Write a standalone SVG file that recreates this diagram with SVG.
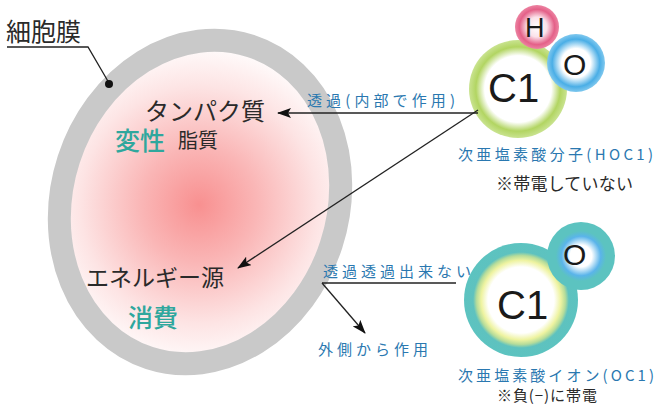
<svg xmlns="http://www.w3.org/2000/svg" width="655" height="407" viewBox="0 0 655 407">
  <defs>
    <style>
      .jp { font-family: "Noto Sans CJK JP", "Noto Sans", sans-serif; }
      .dark { fill: #2a2a2a; }
      .teal { fill: #2fa79d; font-weight: 500; }
      .blue { fill: #2a78b0; }
      .atom { font-family: "Liberation Sans", Arial, sans-serif; fill: #1a1a1a; }
      .wire { stroke: #222; stroke-width: 1.3; fill: none; }
    </style>
    <marker id="arrow" viewBox="0 0 14 10" refX="13" refY="5" markerWidth="14" markerHeight="10" markerUnits="userSpaceOnUse" orient="auto">
      <path d="M0,0 L14,5 L0,10 L3,5 Z" fill="#111"/>
    </marker>
    <radialGradient id="cytoplasm" gradientUnits="userSpaceOnUse" cx="200" cy="205" r="165">
      <stop offset="0" stop-color="#f89090"/>
      <stop offset="0.35" stop-color="#fab6b6"/>
      <stop offset="0.72" stop-color="#fde4e4"/>
      <stop offset="1" stop-color="#ffffff"/>
    </radialGradient>
    <radialGradient id="clGreen">
      <stop offset="0" stop-color="#ffffff"/>
      <stop offset="0.68" stop-color="#ffffff"/>
      <stop offset="0.86" stop-color="#b2d562"/>
      <stop offset="1" stop-color="#c9e390"/>
    </radialGradient>
    <radialGradient id="hPink">
      <stop offset="0" stop-color="#ffffff"/>
      <stop offset="0.45" stop-color="#fbe2ea"/>
      <stop offset="0.8" stop-color="#e46088"/>
      <stop offset="1" stop-color="#ec84a2"/>
    </radialGradient>
    <radialGradient id="oBlue">
      <stop offset="0" stop-color="#ffffff"/>
      <stop offset="0.5" stop-color="#ffffff"/>
      <stop offset="0.82" stop-color="#4aaee6"/>
      <stop offset="1" stop-color="#80c8ee"/>
    </radialGradient>
    <radialGradient id="ionCl">
      <stop offset="0" stop-color="#ffffff"/>
      <stop offset="0.58" stop-color="#ffffff"/>
      <stop offset="0.7" stop-color="#eef3a0"/>
      <stop offset="0.78" stop-color="#b6dc9a"/>
      <stop offset="0.84" stop-color="#5ec2bf"/>
      <stop offset="1" stop-color="#5cc3c0"/>
    </radialGradient>
    <radialGradient id="ionO">
      <stop offset="0" stop-color="#ffffff"/>
      <stop offset="0.32" stop-color="#ffffff"/>
      <stop offset="0.58" stop-color="#5ab4ea"/>
      <stop offset="0.74" stop-color="#5cc3c0"/>
      <stop offset="1" stop-color="#5cc3c0"/>
    </radialGradient>
  </defs>

  <rect width="655" height="407" fill="#ffffff"/>

  <!-- cell: membrane ring and cytoplasm -->
  <g id="cell">
    <ellipse cx="200" cy="202" rx="138" ry="164" transform="rotate(18 200 202)" fill="url(#cytoplasm)" stroke="#c9c9c9" stroke-width="23"/>
  </g>

  <g id="membrane-label">
    <text class="jp dark" x="6" y="41" font-size="25">細胞膜</text>
  </g>

  <g id="inner-targets">
    <text class="jp dark" x="145" y="120" font-size="24">タンパク質</text>
    <text class="jp teal" x="115" y="150" font-size="25">変性</text>
    <text class="jp dark" x="178" y="148" font-size="20">脂質</text>
  </g>

  <g id="energy">
    <text class="jp dark" x="86" y="286" font-size="23">エネルギー源</text>
    <text class="jp teal" x="128" y="327" font-size="25">消費</text>
  </g>

  <!-- hypochlorous acid molecule -->
  <g id="hocl">
    <circle cx="518" cy="89" r="49" fill="url(#clGreen)"/>
    <circle cx="537" cy="27" r="22" fill="url(#hPink)"/>
    <circle cx="576" cy="63" r="29" fill="url(#oBlue)"/>
    <text class="atom" x="488" y="102" font-size="40">C1</text>
    <text class="atom" x="525" y="37" font-size="27">H</text>
    <text class="atom" x="563" y="75" font-size="30">O</text>
    <text class="jp blue" x="458" y="160" font-size="15" textLength="195" lengthAdjust="spacing">次亜塩素酸分子(HOC1)</text>
    <text class="jp dark" x="496" y="190" font-size="17" textLength="137" lengthAdjust="spacing">※帯電していない</text>
  </g>

  <!-- hypochlorite ion -->
  <g id="ocl">
    <circle cx="521" cy="300" r="57" fill="url(#ionCl)"/>
    <circle cx="581" cy="256" r="34" fill="url(#ionO)"/>
    <text class="atom" x="497" y="319" font-size="40">C1</text>
    <text class="atom" x="563" y="265" font-size="30">O</text>
    <text class="jp blue" x="458" y="381" font-size="15" textLength="196" lengthAdjust="spacing">次亜塩素酸イオン(OC1)</text>
    <text class="jp dark" x="497" y="401" font-size="15" textLength="100" lengthAdjust="spacing">※負(−)に帯電</text>
  </g>

  <!-- arrows and leader lines -->
  <g id="connectors">
    <polyline class="wire" points="7,47 88,47 109,83"/>
    <circle cx="109" cy="84" r="4" fill="#111"/>

    <line class="wire" x1="478" y1="113" x2="278" y2="113" marker-end="url(#arrow)"/>
    <line class="wire" x1="478" y1="110" x2="238" y2="268" marker-end="url(#arrow)"/>

    <line class="wire" x1="456" y1="283" x2="322" y2="283"/>
    <line class="wire" x1="322" y1="283" x2="365" y2="333" marker-end="url(#arrow)"/>
  </g>

  <g id="arrow-labels">
    <text class="jp blue" x="307" y="106" font-size="15" textLength="148" lengthAdjust="spacing">透過(内部で作用)</text>
    <text class="jp blue" x="323" y="277" font-size="15" textLength="148" lengthAdjust="spacing">透過透過出来ない</text>
    <text class="jp blue" x="318" y="355" font-size="15" textLength="110" lengthAdjust="spacing">外側から作用</text>
  </g>
</svg>
